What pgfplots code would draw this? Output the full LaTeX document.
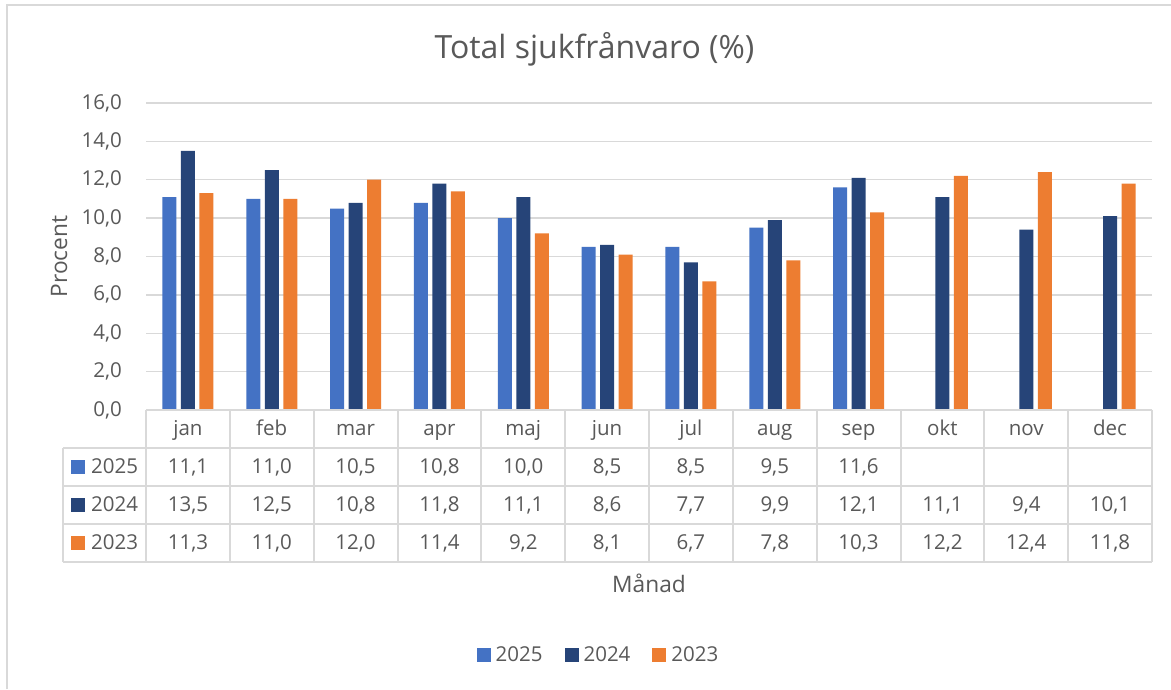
\documentclass[border=0pt]{standalone}
\usepackage{pgfplots}
\pgfplotsset{compat=1.18}
\usepackage{pgfplotstable}
\usepackage{fontspec}
\setmainfont{Open Sans}
\definecolor{c25}{HTML}{4472C4}
\definecolor{c24}{HTML}{264478}
\definecolor{c23}{HTML}{ED7D31}
\definecolor{txt}{HTML}{595959}
\definecolor{grd}{HTML}{D9D9D9}
\newcommand{\tfont}{\fontsize{20.5}{24}\selectfont}
\newcommand{\afont}{\fontsize{22.7}{26}\selectfont}
\newcommand{\hfont}{\fontsize{32}{38}\selectfont}

\pgfplotstableread{
x v
0 11.1
1 11.0
2 10.5
3 10.8
4 10.0
5 8.5
6 8.5
7 9.5
8 11.6
}\tA
\pgfplotstableread{
x v
0 13.5
1 12.5
2 10.8
3 11.8
4 11.1
5 8.6
6 7.7
7 9.9
8 12.1
9 11.1
10 9.4
11 10.1
}\tB
\pgfplotstableread{
x v
0 11.3
1 11.0
2 12.0
3 11.4
4 9.2
5 8.1
6 6.7
7 7.8
8 10.3
9 12.2
10 12.4
11 11.8
}\tC
\pgfplotstableread{
x m
0 jan
1 feb
2 mar
3 apr
4 maj
5 jun
6 jul
7 aug
8 sep
9 okt
10 nov
11 dec
}\tM

\pgfplotsset{
  cellnum/.style={draw=none, mark=none, forget plot, point meta=explicit,
    nodes near coords={\pgfmathprintnumber[fixed,fixed zerofill,precision=1,use comma,assume math mode=true]{\pgfplotspointmeta}},
    every node near coord/.append style={anchor=base, inner sep=0pt, font=\tfont, text=txt}},
}

\begin{document}
\begin{tikzpicture}[x=1pt,y=1pt]
\path[use as bounding box, fill=white] (0,0) rectangle (1171,689);
\draw[grd, line width=1.5pt] (7,0) -- (7,684) -- (1171,684);
\begin{axis}[
  at={(146pt,279pt)}, anchor=south west,
  width=1006pt, height=307pt, scale only axis,
  xmin=-0.5, xmax=11.5, ymin=0, ymax=16,
  ytick={0,2,...,16}, xtick=\empty,
  axis line style={draw=none},
  major tick length=0pt,
  ymajorgrids, grid style={grd, line width=1.3pt},
  clip=false,
  yticklabel={\pgfmathprintnumber[fixed,fixed zerofill,precision=1,use comma,assume math mode=true]{\tick}},
  yticklabel style={font=\tfont, text=txt, inner sep=0pt, anchor=east, xshift=-24pt},
  legend columns=3,
  legend style={draw=none, fill=none, at={(axis description cs:0.4498,-0.798)}, anchor=center,
    font=\tfont, text=txt,
    /tikz/every odd column/.append style={column sep=3pt},
    /tikz/every even column/.append style={column sep=20pt}},
  legend cell align=left,
]
\addplot[ybar, bar width=14pt, bar shift=-18.5pt, fill=c25, draw=none,
  legend image code/.code={\fill[c25] (0pt,-7pt) rectangle (14pt,7pt);}]
  table[x=x, y=v] {\tA};
\addlegendentry{2025}
\addplot[ybar, bar width=14pt, bar shift=0pt, fill=c24, draw=none,
  legend image code/.code={\fill[c24] (0pt,-7pt) rectangle (14pt,7pt);}]
  table[x=x, y=v] {\tB};
\addlegendentry{2024}
\addplot[ybar, bar width=14pt, bar shift=18.5pt, fill=c23, draw=none,
  legend image code/.code={\fill[c23] (0pt,-7pt) rectangle (14pt,7pt);}]
  table[x=x, y=v] {\tC};
\addlegendentry{2023}
% data table text
\addplot[draw=none, mark=none, forget plot, point meta=explicit symbolic, nodes near coords,
  every node near coord/.append style={anchor=base, inner sep=0pt, font=\tfont, text=txt}]
  table[x=x, y expr=-1.355, meta=m] {\tM};
\addplot[cellnum] table[x=x, y expr=-3.309, meta=v] {\tA};
\addplot[cellnum] table[x=x, y expr=-5.290, meta=v] {\tB};
\addplot[cellnum] table[x=x, y expr=-7.270, meta=v] {\tC};
\end{axis}
% table grid
\begin{scope}[grd, line width=2pt]
\foreach \k in {0,...,12} \draw (146+\k*83.833,279) -- (146+\k*83.833,127);
\draw (63,241) -- (63,127);
\draw (146,279) -- (1152,279);
\foreach \yy in {241,203,165,127} \draw (63,\yy) -- (1152,\yy);
\end{scope}
% left column
\fill[c25] (71,215) rectangle (85,229);
\fill[c24] (71,177) rectangle (85,191);
\fill[c23] (71,139) rectangle (85,153);
\node[anchor=base west, inner sep=0pt, font=\tfont, text=txt] at (91,215.5) {2025};
\node[anchor=base west, inner sep=0pt, font=\tfont, text=txt] at (91,177.5) {2024};
\node[anchor=base west, inner sep=0pt, font=\tfont, text=txt] at (91,139.5) {2023};
% titles
\node[anchor=base, inner sep=0pt, font=\hfont, text=txt] at (594.5,630) {Total sjukfrånvaro (\%)};
\node[anchor=base, inner sep=0pt, font=\afont, text=txt] at (649,96) {Månad};
\node[anchor=base, inner sep=0pt, font=\afont, text=txt, rotate=90] at (67,432.5) {Procent};
\end{tikzpicture}
\end{document}
